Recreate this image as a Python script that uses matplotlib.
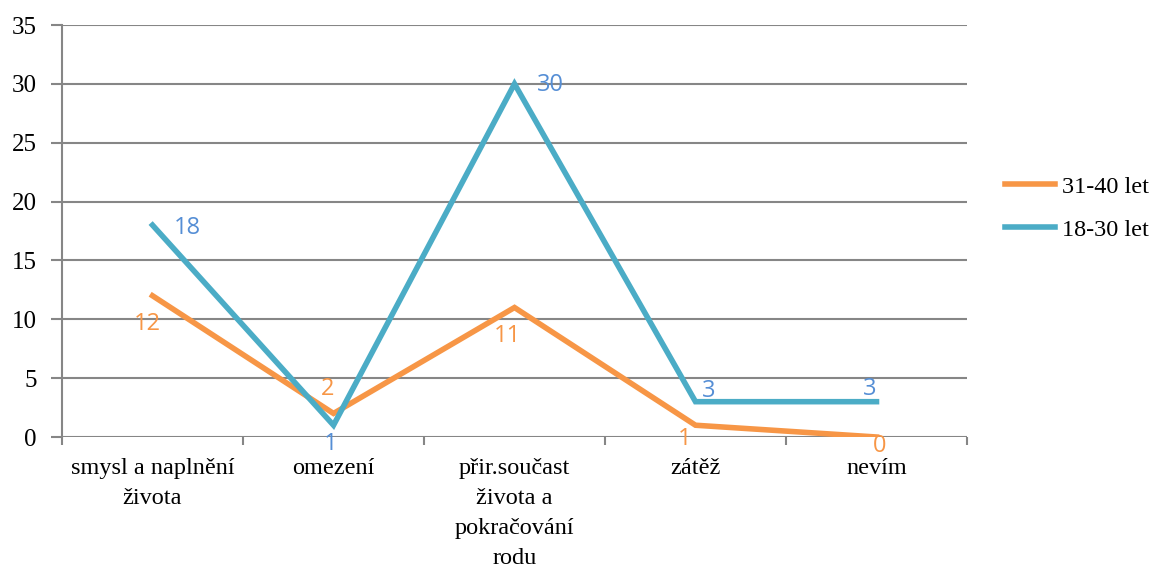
import matplotlib
matplotlib.use("Agg")
import matplotlib.pyplot as plt

categories = ["smysl a naplnění\nživota", "omezení", "přir.součast\nživota a\npokračování\nrodu", "zátěž", "nevím"]
series_names = ["31-40 let", "18-30 let"]
vals_31_40 = [12, 2, 11, 1, 0]
vals_18_30 = [18, 1, 30, 3, 3]
yticks = [0, 5, 10, 15, 20, 25, 30, 35]

line_colors = ["#F79646", "#4BACC6"]
label_colors = ["#F79646", "#558ED5"]
# label offsets in pixels (Excel-like placement)
offs_31_40 = [(-5, -28), (-6, 24), (-7, -28), (-11, -14), (3, -9)]
offs_18_30 = [(35, -3), (-3, -19), (36, -1), (13, 11), (-7, 13)]

fig = plt.figure(figsize=(11.59, 5.74), dpi=100)
ax = fig.add_axes([62 / 1159, 1 - 437 / 574, (967 - 62) / 1159, (437 - 25) / 574])

x = list(range(len(categories)))
lines = []
for vals, name, lc, tc, offs in [
	(vals_31_40, series_names[0], line_colors[0], label_colors[0], offs_31_40),
	(vals_18_30, series_names[1], line_colors[1], label_colors[1], offs_18_30),
]:
	ln, = ax.plot(x, vals, color=lc, lw=4, label=name, solid_joinstyle="miter", zorder=3)
	lines.append(ln)
	for xi, v, o in zip(x, vals, offs):
		ax.annotate(str(v), (xi, v), xytext=o, textcoords="offset pixels",
			ha="center", va="center", color=tc, fontsize=17, family="Open Sans", zorder=4)

ax.set_xlim(-0.5, len(categories) - 0.5)
ax.set_ylim(0, 35)
ax.set_yticks(yticks)
ax.set_yticklabels([str(t) for t in yticks], family="Liberation Serif", fontsize=18)
ax.grid(axis="y", color="#868686", lw=1.5)
ax.set_axisbelow(True)

# category boundaries as minor ticks, labels at centers
ax.set_xticks(x)
ax.set_xticklabels(categories, family="Liberation Serif", fontsize=17.5, linespacing=1.56, va="top")
ax.set_xticks([i - 0.5 for i in range(len(categories) + 1)], minor=True)
ax.tick_params(axis="x", which="major", length=0, pad=15)
ax.tick_params(axis="x", which="minor", length=6, width=1.5, color="#868686")
ax.tick_params(axis="y", length=8, width=1.5, color="#868686", pad=10)

for s in ["top", "right"]:
	ax.spines[s].set_visible(False)
ax.spines["bottom"].set_visible(False)
ax.spines["left"].set_color("#868686")
ax.spines["left"].set_linewidth(1.5)

fig.legend(handles=lines, labels=series_names, loc="upper left", bbox_to_anchor=(983 / 1159, 1 - 154 / 574),
	frameon=False, prop={"family": "Liberation Serif", "size": 17.5}, handlelength=2.05,
	labelspacing=0.85, handletextpad=0.3)

fig.savefig("out.png", dpi=100)
